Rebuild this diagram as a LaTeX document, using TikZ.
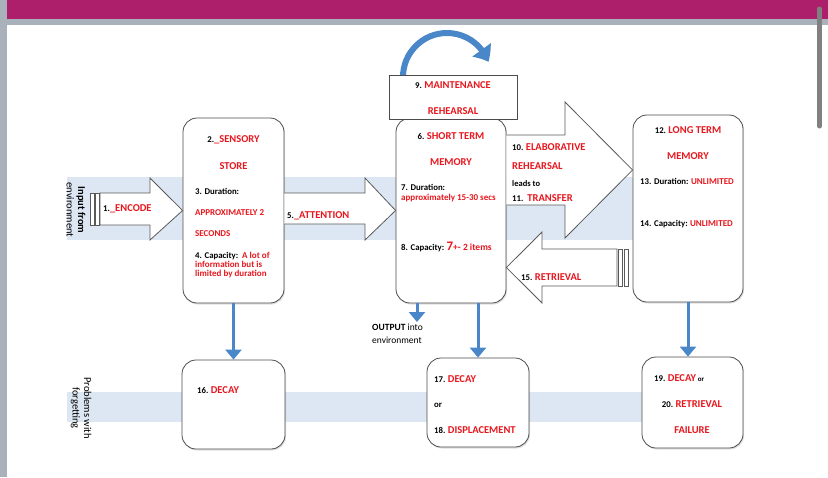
\documentclass[tikz,border=0pt]{standalone}
\usepackage{fontspec}
\setmainfont{Carlito}[BoldFont=Carlito Bold]
\usepackage{xcolor}
\usetikzlibrary{calc,arrows.meta,bending,shadows}

\definecolor{memred}{HTML}{E8161D}
\definecolor{bandblue}{HTML}{DDE7F3}
\definecolor{flowblue}{HTML}{4A87C9}
\definecolor{barpink}{HTML}{AD1F6A}
\definecolor{chrome}{HTML}{A9B1BA}

% red headings, red details, black numbers
\newcommand{\rt}[1]{\textcolor{memred}{\bfseries\fontsize{10.5}{12}\selectfont #1}}
\newcommand{\rd}[1]{\textcolor{memred}{\bfseries\fontsize{9}{11}\selectfont #1}}
\newcommand{\nb}[1]{{\bfseries\fontsize{8.8}{10}\selectfont #1}}

\tikzset{
  membox/.style={draw=black!70, line width=0.8pt, fill=white, rounded corners=14pt,
    inner sep=0pt, drop shadow={opacity=0.25, shadow xshift=1pt, shadow yshift=-1.5pt}},
  blockarrow/.style={draw=black!65, line width=0.8pt, fill=white},
  flow/.style={draw=flowblue, line width=3pt, -{Triangle[width=16pt,length=10pt]}},
  txt/.style={inner sep=0pt, font=\bfseries\fontsize{8}{10}\selectfont, anchor=west},
  ctxt/.style={txt, anchor=center},
  side/.style={inner sep=0pt, font=\fontsize{10.5}{11.5}\selectfont, rotate=-90, align=center}
}

\begin{document}
\begin{tikzpicture}[x=1pt,y=-1pt]
    \useasboundingbox (0,0) rectangle (828,477);

    % Window frame
    \fill[chrome] (0,0) rectangle (7,477);
    \fill[chrome] (7,19) rectangle (828,25);
    \fill[barpink] (7,0) rectangle (828,19);
    \draw[black!50, line width=5pt, line cap=round] (819.5,9) -- (819.5,126);

    % Bands
    \fill[bandblue] (67,177) rectangle (635,240);
    \fill[bandblue] (67,392) rectangle (643,422);

    % Maintenance loop (behind the boxes)
    \coordinate (loop) at (447,77);
    \draw[flowblue, line width=6pt, -{Triangle[bend,width=22pt,length=14pt]}]
      (loop) ++(90:44) arc[start angle=90, end angle=340, radius=44];

    % Stores
    \node[membox, minimum width=101pt, minimum height=185pt] (sensory) at (233.5,210.5) {};
    \node[membox, minimum width=110pt, minimum height=185pt] (stm) at (451,210.5) {};
    \node[membox, minimum width=110pt, minimum height=187pt] (ltm) at (688,208.5) {};
    \node[draw=black!70, line width=0.8pt, fill=white, inner sep=0pt,
      minimum width=128pt, minimum height=44pt] (maint) at (453,97) {};

    % Forgetting boxes
    \node[membox, minimum width=103pt, minimum height=89pt] (decay) at (233.5,404.5) {};
    \node[membox, minimum width=102pt, minimum height=89pt] (displ) at (478,402.5) {};
    \node[membox, minimum width=101pt, minimum height=91pt] (fail) at (692.5,402.5) {};

    % Encode arrow
    \foreach \bx in {90,95}
      \draw[blockarrow] (\bx,193) rectangle +(4,32);
    \draw[blockarrow] (100,193) -- (150,193) -- (150,178) -- (sensory.west)
      -- (150,240) -- (150,225) -- (100,225) -- cycle;

    % Attention arrow
    \draw[blockarrow] (sensory.east |- 0,193) -- (365,193) -- (365,178) -- (stm.west)
      -- (365,240) -- (365,224) -- (sensory.east |- 0,224);

    % Elaborative rehearsal arrow
    \draw[blockarrow] (stm.east |- 0,135) -- (565,135) -- (565,102) -- (ltm.west |- 0,170)
      -- (565,238) -- (565,205) -- (stm.east |- 0,205);

    % Retrieval arrow
    \foreach \bx in {618,624}
      \draw[blockarrow] (\bx,249) rectangle +(4,37);
    \draw[blockarrow] (617,249) -- (542,249) -- (542,232) -- (stm.east |- 0,267.5)
      -- (542,303) -- (542,286) -- (617,286) -- cycle;

    % Down arrows
    \coordinate (outtip) at (417,322);
    \draw[flow] (sensory.south) -- (decay.north);
    \draw[flow] (stm.south -| outtip) -- (outtip);
    \draw[flow] (displ.north |- stm.south) -- (displ.north);
    \draw[flow] (ltm.south) -- (ltm.south |- fail.north);

    % Side labels
    \node[side] (input) at (76,210) {\textbf{Input from}\\environment};
    \node[side] (forget) at (81,408) {Problems with\\forgetting};

    % Sensory store text
    \node[txt] (encode) at (103,209) {\nb{1.}\rt{\_ENCODE}};
    \node[ctxt] (s2) at (233.5,140) {\nb{2.}\rt{\_SENSORY}};
    \node[ctxt] (s2b) at (233.5,166) {\rt{STORE}};
    \node[txt] (s3) at (195,191) {\nb{3. Duration:}};
    \node[txt] (s3a) at (195,213) {\rd{APPROXIMATELY 2}};
    \node[txt] (s3b) at (195,234) {\rd{SECONDS}};
    \node[txt, align=left, anchor=north west] (s4) at (195,252)
      {\nb{4. Capacity:}\enspace\rd{A lot of}\\[-1pt]\rd{information but is}\\[-1pt]\rd{limited by duration}};
    \node[txt] (attn) at (287,216) {\nb{5.}\rt{\_ATTENTION}};

    % Short term memory text
    \node[ctxt] (m9) at (453,85) {\nb{9.} \rt{MAINTENANCE}};
    \node[ctxt] (m9b) at (453,111) {\rt{REHEARSAL}};
    \node[ctxt] (st6) at (451,136) {\nb{6.} \rt{SHORT TERM}};
    \node[ctxt] (st6b) at (451,162) {\rt{MEMORY}};
    \node[txt] (st7) at (401,187) {\nb{7. Duration:}};
    \node[txt] (st7a) at (401,198) {\rd{approximately 15-30 secs}};
    \node[txt] (st8) at (401,247)
      {\nb{8. Capacity:} \textcolor{memred}{{\fontsize{13}{13}\selectfont 7}{\fontsize{9.5}{9.5}\selectfont +- 2 items}}};

    % Transfer and retrieval text
    \node[txt] (el10) at (512,147) {\nb{10.} \rt{ELABORATIVE}};
    \node[txt] (el10b) at (512,166) {\rt{REHEARSAL}};
    \node[txt] (el10c) at (512,184) {{\fontsize{8.5}{10}\selectfont leads to}};
    \node[txt] (el11) at (512,198) {\nb{11.}\enspace\rt{TRANSFER}};
    \node[txt] (ret) at (521,277) {\nb{15.} \rt{RETRIEVAL}};

    % Long term memory text
    \node[ctxt] (lt12) at (688,130) {\nb{12.} \rt{LONG TERM}};
    \node[ctxt] (lt12b) at (688,156) {\rt{MEMORY}};
    \node[txt] (lt13) at (640,181) {\nb{13. Duration:} \rd{UNLIMITED}};
    \node[txt] (lt14) at (640,224) {\nb{14. Capacity:} \rd{UNLIMITED}};

    % Output
    \node[txt, align=left, anchor=north west, font=\fontsize{9.5}{13}\selectfont] (output) at (372,324)
      {\textbf{OUTPUT} into\\environment};

    % Forgetting text
    \node[txt] (f16) at (197,390) {\nb{16.} \rt{DECAY}};
    \node[txt] (f17) at (434,379) {\nb{17.} \rt{DECAY}};
    \node[txt] (f17b) at (434,405) {\nb{or}};
    \node[txt] (f18) at (434,430) {\nb{18.} \rt{DISPLACEMENT}};
    \node[txt] (f19) at (654,378) {\nb{19.} \rt{DECAY} {\bfseries\fontsize{7}{8}\selectfont or}};
    \node[ctxt] (f20) at (692,404) {\nb{20.} \rt{RETRIEVAL}};
    \node[ctxt] (f20b) at (692,430) {\rt{FAILURE}};
  \end{tikzpicture}
\end{document}
